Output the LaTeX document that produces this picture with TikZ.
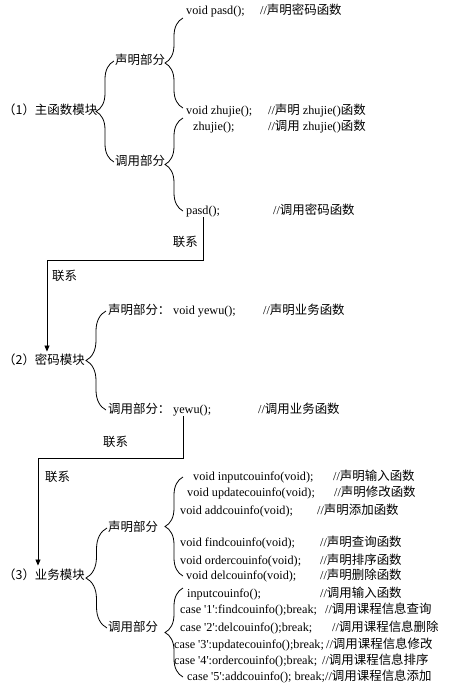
\documentclass[tikz,border=0pt]{standalone}
\usepackage{fontspec}
\setmainfont{Liberation Serif}
\newfontfamily\cjk[Scale=1.02]{Noto Sans CJK SC}
\newcommand\zh[1]{{\cjk #1}}
\newcommand\apos{\textquotesingle}
\usepackage{tikz}
\usetikzlibrary{arrows.meta, decorations.pathreplacing}

\begin{document}
\begin{tikzpicture}[
  x=1pt, y=-1pt,
  txt/.style={anchor=west, inner sep=0pt, text height=10pt, text depth=2.5pt,
              font=\fontsize{12.2}{14}\selectfont},
  brc/.style={decorate, decoration={brace, amplitude=#1}, line width=0.8pt},
  brc/.default=18pt,
  arr/.style={-{Triangle[length=6pt, width=5pt]}, line width=0.8pt}
]
  \useasboundingbox (0,0) rectangle (455,686);

  \node[txt] (main1)       at (3,111)   {\zh{（1）主函数模块}};
  \node[txt] (decl1)       at (115,61)  {\zh{声明部分}};
  \node[txt] (call1)       at (115,162) {\zh{调用部分}};
  \node[txt] (pasddecl)    at (186,11)  {void pasd();};
  \node[txt] (pasddeclc)   at (260,11)  {//\zh{声明密码函数}};
  \node[txt] (zhujiedecl)  at (186,111) {void zhujie();};
  \node[txt] (zhujiedeclc) at (268,111) {//\zh{声明} zhujie()\zh{函数}};
  \node[txt] (zhujiecall)  at (193,127) {zhujie();};
  \node[txt] (zhujiecallc) at (268,127) {//\zh{调用} zhujie()\zh{函数}};
  \node[txt] (pasdcall)    at (186,211) {pasd();};
  \node[txt] (pasdcallc)   at (273,211) {//\zh{调用密码函数}};

  \draw[brc] ([xshift=-1pt]call1.west) -- ([xshift=-1pt]decl1.west);
  \draw[brc] ([xshift=-3pt,yshift=3pt]zhujiedecl.west) -- ([xshift=-3pt,yshift=-7pt]pasddecl.west);
  \draw[brc] ([xshift=-3pt]pasdcall.west) -- ([xshift=-10pt,yshift=9pt]zhujiecall.west);

  \node[txt] (main2)     at (3,361)   {\zh{（2）密码模块}};
  \node[txt] (decl2)     at (108,311) {\zh{声明部分：}};
  \node[txt] (yewudecl)  at (173,311) {void yewu();};
  \node[txt] (yewudeclc) at (263,311) {//\zh{声明业务函数}};
  \node[txt] (call2)     at (108,410) {\zh{调用部分：}};
  \node[txt] (yewucall)  at (173,410) {yewu();};
  \node[txt] (yewucallc) at (258,410) {//\zh{调用业务函数}};

  \draw[brc=20pt] ([xshift=-2pt]call2.west) -- ([xshift=-2pt]decl2.west);

  \node[txt, anchor=east] (link1) at (198,243) {\zh{联系}};
  \node[txt] (link2) at (52,277) {\zh{联系}};
  \draw[arr] (pasdcall.south) -- ++(0,43) -| ([xshift=3pt,yshift=3pt]main2.north);

  \node[txt] (main3) at (3,576)   {\zh{（3）业务模块}};
  \node[txt] (decl3) at (108,528) {\zh{声明部分}};
  \node[txt] (call3) at (108,628) {\zh{调用部分}};

  \node[txt] (link3) at (103,443) {\zh{联系}};
  \node[txt] (link4) at (45,478)  {\zh{联系}};
  \draw[arr] ([xshift=-9pt]yewucall.south) -- ++(0,42) -| ([xshift=-6pt,yshift=4pt]main3.north);

  \node[txt] (inputdecl)   at (193,477) {void inputcouinfo(void);};
  \node[txt] (inputdeclc)  at (333,477) {//\zh{声明输入函数}};
  \node[txt] (updatedecl)  at (187,493) {void updatecouinfo(void);};
  \node[txt] (updatedeclc) at (334,493) {//\zh{声明修改函数}};
  \node[txt] (adddecl)     at (180,511) {void addcouinfo(void);};
  \node[txt] (adddeclc)    at (317,511) {//\zh{声明添加函数}};
  \node[txt] (finddecl)    at (180,543) {void findcouinfo(void);};
  \node[txt] (finddeclc)   at (320,543) {//\zh{声明查询函数}};
  \node[txt] (orderdecl)   at (180,561) {void ordercouinfo(void);};
  \node[txt] (orderdeclc)  at (320,561) {//\zh{声明排序函数}};
  \node[txt] (deldecl)     at (186,576) {void delcouinfo(void);};
  \node[txt] (deldeclc)    at (320,576) {//\zh{声明删除函数}};

  \node[txt] (inputcall)   at (187,594) {inputcouinfo();};
  \node[txt] (inputcallc)  at (320,594) {//\zh{调用输入函数}};
  \node[txt] (findcall)    at (180,610) {case \apos1\apos:findcouinfo();break;};
  \node[txt] (findcallc)   at (325,610) {//\zh{调用课程信息查询}};
  \node[txt] (delcall)     at (180,628) {case \apos2\apos:delcouinfo();break;};
  \node[txt] (delcallc)    at (332,628) {//\zh{调用课程信息删除}};
  \node[txt] (updatecall)  at (174,645) {case \apos3\apos:updatecouinfo();break;};
  \node[txt] (updatecallc) at (326,645) {//\zh{调用课程信息修改}};
  \node[txt] (ordercall)   at (174,661) {case \apos4\apos:ordercouinfo();break;};
  \node[txt] (ordercallc)  at (322,661) {//\zh{调用课程信息排序}};
  \node[txt] (addcall)     at (187,677) {case \apos5\apos:addcouinfo(); break;};
  \node[txt] (addcallc)    at (325,677) {//\zh{调用课程信息添加}};

  \draw[brc=21pt] ([xshift=-1pt]call3.west) -- ([xshift=-1pt]decl3.west);
  \draw[brc] ([xshift=-3pt]deldecl.west) -- ([xshift=-10pt]inputdecl.west);
  \draw[brc] ([xshift=-4pt]addcall.west) -- ([xshift=-4pt,yshift=6pt]inputcall.west);
\end{tikzpicture}
\end{document}
